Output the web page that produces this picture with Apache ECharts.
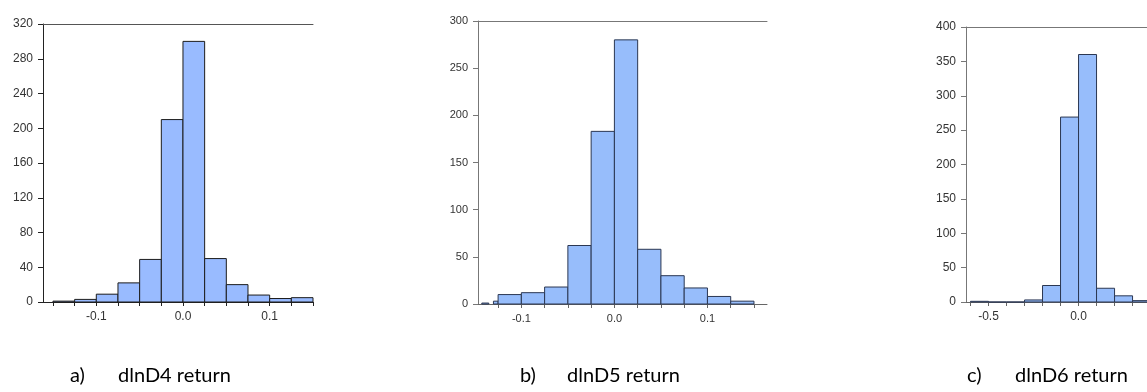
<!DOCTYPE html>
<html>
<head>
<meta charset="utf-8">
<script src="https://cdn.jsdelivr.net/npm/echarts@6/dist/echarts.min.js"></script>
<style>
  html, body { margin: 0; padding: 0; background: #fff; overflow: hidden; }
  #chart { width: 1280px; height: 392px; }
</style>
</head>
<body>
<div id="chart"></div>
<script>
  // a) dlnD4 return
  var startA = [-0.15, -0.125, -0.1, -0.075, -0.05, -0.025, 0, 0.025, 0.05, 0.075, 0.1, 0.125];
  var endA = [-0.125, -0.1, -0.075, -0.05, -0.025, 0, 0.025, 0.05, 0.075, 0.1, 0.125, 0.15];
  var countA = [1, 3, 9, 22, 49, 210, 300, 50, 20, 8, 4, 5];
  var ticksA = [-0.15, -0.125, -0.1, -0.075, -0.05, -0.025, 0, 0.025, 0.05, 0.075, 0.1, 0.125, 0.15];

  // b) dlnD5 return
  var startB = [-0.1425, -0.13, -0.125, -0.1, -0.075, -0.05, -0.025, 0, 0.025, 0.05, 0.075, 0.1, 0.125];
  var endB = [-0.135, -0.125, -0.1, -0.075, -0.05, -0.025, 0, 0.025, 0.05, 0.075, 0.1, 0.125, 0.15];
  var countB = [1, 3, 10, 12, 18, 62, 183, 280, 58, 30, 17, 8, 3];
  var ticksB = [-0.125, -0.1, -0.075, -0.05, -0.025, 0, 0.025, 0.05, 0.075, 0.1, 0.125, 0.15];

  // c) dlnD6 return
  var startC = [-0.6, -0.5, -0.4, -0.3, -0.2, -0.1, 0, 0.1, 0.2, 0.3];
  var endC = [-0.5, -0.4, -0.3, -0.2, -0.1, 0, 0.1, 0.2, 0.3, 0.4];
  var countC = [1, 0, 0, 3, 24, 269, 360, 20, 9, 2];
  var ticksC = [-0.6, -0.5, -0.4, -0.3, -0.2, -0.1, 0, 0.1, 0.2, 0.3, 0.4, 0.5, 0.6, 0.7, 0.8, 0.9];

  var labelsAB = [-0.1, 0, 0.1];
  var labelsC = [-0.5, 0, 0.5];

  const toData = (s, e, c) => s.map((v, i) => [v, e[i], c[i]]);

  const histItem = (fill, stroke) => (params, api) => {
    let p0 = api.coord([api.value(0), 0]);
    let p1 = api.coord([api.value(1), api.value(2)]);
    return {
      type: 'rect',
      shape: { x: p0[0], y: p1[1], width: p1[0] - p0[0], height: p0[1] - p1[1] },
      style: { fill: fill, stroke: stroke, lineWidth: 1 }
    };
  };

  const fontAxis = 'Liberation Sans';

  const bottomAxis = (idx, min, max, ticks, labels, color, size) => ({
    type: 'value',
    gridIndex: idx,
    position: 'bottom',
    min: min,
    max: max,
    splitLine: { show: false },
    axisLine: { show: true, onZero: false, lineStyle: { color: color, width: 1 } },
    axisTick: { show: true, length: 4, customValues: ticks, lineStyle: { color: color } },
    axisLabel: {
      customValues: labels,
      margin: 9,
      fontSize: size,
      fontFamily: fontAxis,
      color: '#333',
      formatter: v => v.toFixed(1)
    }
  });

  const topAxis = (idx, min, max, color) => ({
    type: 'value',
    gridIndex: idx,
    position: 'top',
    min: min,
    max: max,
    splitLine: { show: false },
    axisLine: { show: true, onZero: false, lineStyle: { color: color, width: 1 } },
    axisTick: { show: false },
    axisLabel: { show: false }
  });

  const leftAxis = (idx, max, interval, color, size) => ({
    type: 'value',
    gridIndex: idx,
    position: 'left',
    min: 0,
    max: max,
    interval: interval,
    splitLine: { show: false },
    axisLine: { show: true, onZero: false, lineStyle: { color: color, width: 1 } },
    axisTick: { show: true, length: 5, lineStyle: { color: color } },
    axisLabel: { margin: 10, fontSize: size, fontFamily: fontAxis, color: '#333' }
  });

  const caption = (text, left) => ({
    text: text,
    left: left,
    top: 366,
    padding: 0,
    textStyle: { fontFamily: 'Lato', fontSize: 20, fontWeight: 'normal', color: '#000' }
  });

  let myChart = echarts.init(document.getElementById('chart'));
  let option = {
    animation: false,
    title: [
      caption('a)', 70), caption('dlnD4 return', 118),
      caption('b)', 520), caption('dlnD5 return', 567),
      caption('c)', 967), caption('dlnD6 return', 1015)
    ],
    grid: [
      { left: 43, top: 24, width: 270, height: 278 },
      { left: 478, top: 21, width: 289, height: 283 },
      { left: 966, top: 27, width: 289, height: 275 }
    ],
    xAxis: [
      bottomAxis(0, -0.1615, 0.15, ticksA, labelsAB, '#222', 12),
      bottomAxis(1, -0.1466, 0.164, ticksB, labelsAB, '#666', 11),
      bottomAxis(2, -0.625, 0.98, ticksC, labelsC, '#666', 12),
      topAxis(0, -0.1615, 0.15, '#555'),
      topAxis(1, -0.1466, 0.164, '#777'),
      topAxis(2, -0.625, 0.98, '#777')
    ],
    yAxis: [
      leftAxis(0, 320, 40, '#222', 12),
      leftAxis(1, 300, 50, '#777', 11),
      leftAxis(2, 400, 50, '#777', 12)
    ],
    series: [
      {
        type: 'custom', xAxisIndex: 0, yAxisIndex: 0,
        renderItem: histItem('#99bbff', '#1c1c1c'),
        encode: { x: [0, 1], y: 2 },
        data: toData(startA, endA, countA)
      },
      {
        type: 'custom', xAxisIndex: 1, yAxisIndex: 1,
        renderItem: histItem('#97bdfb', '#2b3752'),
        encode: { x: [0, 1], y: 2 },
        data: toData(startB, endB, countB)
      },
      {
        type: 'custom', xAxisIndex: 2, yAxisIndex: 2,
        renderItem: histItem('#97bdfb', '#2b3752'),
        encode: { x: [0, 1], y: 2 },
        data: toData(startC, endC, countC)
      }
    ]
  };

  option && myChart.setOption(option);
</script>
</body>
</html>
